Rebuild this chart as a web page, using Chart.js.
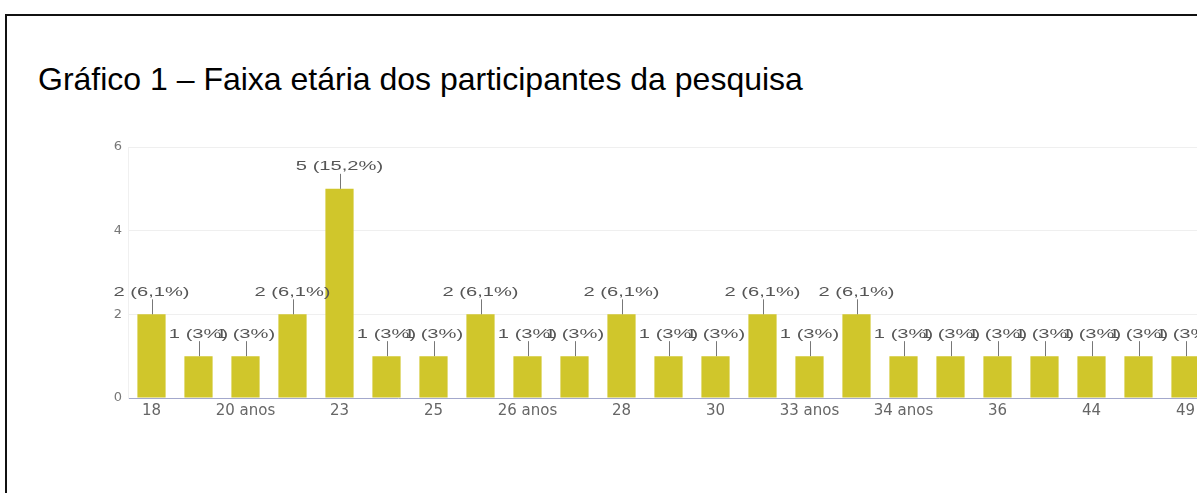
<!DOCTYPE html>
<html>
<head>
<meta charset="utf-8">
<script src="https://cdn.jsdelivr.net/npm/chart.js@4"></script>
<style>
	html, body { margin: 0; padding: 0; background: #fff; overflow: hidden; width: 1197px; height: 493px; }
	#frame { position: absolute; left: 5px; top: 14px; width: 1300px; height: 600px; border-left: 2px solid #111; border-top: 2px solid #111; }
	#title { position: absolute; left: 38px; top: 63px; font-family: "Liberation Sans", Arial, sans-serif; font-size: 32px; line-height: 32px; color: #000; white-space: nowrap; }
	#chart { position: absolute; left: 60px; top: 130px; }
</style>
</head>
<body>
<div id="frame"></div>
<div id="title">Gráfico 1 – Faixa etária dos participantes da pesquisa</div>
<canvas id="chart" width="1149" height="300"></canvas>
<script>
	var ageLabels = ['18', '20', '20 anos', '22', '23', '24', '25', '26', '26 anos', '27', '28', '29',
		'30', '32', '33 anos', '34', '34 anos', '35', '36', '40', '44', '45', '49'];
	var answerCounts = [2, 1, 1, 2, 5, 1, 1, 2, 1, 1, 2, 1, 1, 2, 1, 2, 1, 1, 1, 1, 1, 1, 1];
	var yTicks = [0, 2, 4, 6];

	var total = 0;
	for (i in answerCounts) {
		total += answerCounts[i];
	}

	function pctText(v) {
		var p = Math.round(v / total * 1000) / 10;
		return v + ' (' + String(p).replace('.', ',') + '%)';
	}

	// labels above bars with a small leader line
	var barLabels = {
		id: 'barLabels',
		afterDatasetsDraw: function(chart) {
			var ctx = chart.ctx;
			var meta = chart.getDatasetMeta(0);
			ctx.save();
			ctx.strokeStyle = '#777';
			ctx.lineWidth = 1;
			ctx.fillStyle = '#555';
			ctx.font = '13px "Liberation Sans", Arial, sans-serif';
			ctx.textAlign = 'center';
			ctx.textBaseline = 'middle';
			meta.data.forEach(function(bar, i) {
				var x = Math.round(bar.x) + 0.5;
				ctx.beginPath();
				ctx.moveTo(x, bar.y);
				ctx.lineTo(x, bar.y - 15);
				ctx.stroke();
				ctx.save();
				ctx.translate(bar.x, bar.y - 22);
				ctx.scale(1.55, 1);
				ctx.fillText(pctText(answerCounts[i]), 0, 0);
				ctx.restore();
			});
			ctx.restore();
		}
	};

	new Chart(document.getElementById('chart'), {
		type: 'bar',
		data: {
			labels: ageLabels,
			datasets: [{
				data: answerCounts,
				backgroundColor: '#d0c62b',
				categoryPercentage: 0.6,
				barPercentage: 1
			}]
		},
		options: {
			responsive: false,
			animation: false,
			layout: { padding: { top: 17, right: 0, bottom: 0, left: 0 } },
			plugins: {
				legend: { display: false },
				tooltip: { enabled: false }
			},
			scales: {
				x: {
					grid: { display: false, drawTicks: false },
					border: { color: '#a3a8cc', width: 1 },
					ticks: {
						autoSkip: false,
						maxRotation: 0,
						padding: 4,
						color: '#666',
						font: { family: 'DejaVu Sans', size: 15 },
						callback: function(val, i) {
							return i % 2 === 0 ? this.getLabelForValue(val) : '';
						}
					},
					afterFit: function(scale) { scale.height = 32; }
				},
				y: {
					min: 0,
					max: 6,
					afterBuildTicks: function(scale) {
						scale.ticks = yTicks.map(function(v) { return { value: v }; });
					},
					grid: { color: '#efefef', drawTicks: false },
					border: { display: true, color: '#f0f0f0' },
					ticks: {
						padding: 6,
						color: '#777',
						font: { family: 'DejaVu Sans', size: 13 }
					},
					afterFit: function(scale) { scale.width = 68; }
				}
			}
		},
		plugins: [barLabels]
	});
</script>
</body>
</html>
